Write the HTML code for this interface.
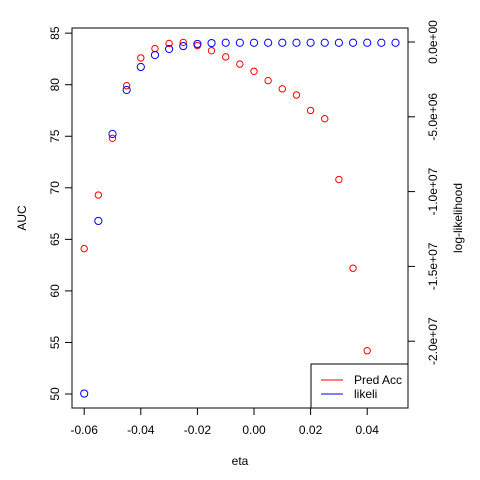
<!DOCTYPE html>
<html><head><meta charset="utf-8"><style>body{margin:0;background:#fff}svg{display:block;font-family:"Liberation Sans",sans-serif}</style></head>
<body>
<svg id="chart" width="480" height="480" viewBox="0 0 480 480"></svg>
<script>
const etas=[-0.06,-0.055,-0.05,-0.045,-0.04,-0.035,-0.03,-0.025,-0.02,-0.015,-0.01,-0.005,0,0.005,0.01,0.015,0.02,0.025,0.03,0.035,0.04,0.045,0.05];
const predAcc=[64.1,69.3,74.8,79.9,82.6,83.5,84.0,84.1,83.8,83.3,82.7,82.0,81.3,80.4,79.6,79.0,77.5,76.7,70.8,62.2,54.2];
const likeli=[-23.5e6,-11.96e6,-6.15e6,-3.21e6,-1.67e6,-0.87e6,-0.47e6,-0.27e6,-0.13e6,-0.07e6,-0.05e6,-0.05e6,-0.05e6,-0.05e6,-0.05e6,-0.05e6,-0.05e6,-0.05e6,-0.05e6,-0.05e6,-0.05e6,-0.05e6,-0.05e6];
const xTicks=[-0.06,-0.04,-0.02,0,0.02,0.04];
const xTickLabels=["-0.06","-0.04","-0.02","0.00","0.02","0.04"];
const yTicks=[50,55,60,65,70,75,80,85];
const y2Ticks=[0,-5e6,-1e7,-1.5e7,-2e7];
const y2TickLabels=["0.0e+00","-5.0e+06","-1.0e+07","-1.5e+07","-2.0e+07"];
const X=v=>254+v*2830;
const Y=v=>394-(v-50)*10.31;
const Y2=v=>42-v/5e6*74.8;
const svg=document.getElementById('chart');
const NS='http://www.w3.org/2000/svg';
function mk(t,a,p){const e=document.createElementNS(NS,t);for(const k in a)e.setAttribute(k,a[k]);(p||svg).appendChild(e);return e;}
let e;
e=mk('rect',{x:72,y:28,width:336,height:380,fill:'none',stroke:'#000'});


// x axis
e=mk('line',{x1:X(-0.06),x2:X(0.04),y1:408,y2:408,stroke:'#000'});


xTicks.forEach((t,i)=>{
 e=mk('line',{x1:X(t),x2:X(t),y1:408,y2:415,stroke:'#000'});
 
 
 e=mk('text',{x:X(t),y:434,'text-anchor':'middle','font-size':12});e.textContent=xTickLabels[i];
 
 
});
// left axis
e=mk('line',{x1:72,x2:72,y1:Y(50),y2:Y(85),stroke:'#000'});


yTicks.forEach(t=>{
 e=mk('line',{x1:65,x2:72,y1:Y(t),y2:Y(t),stroke:'#000'});
 
 
 e=mk('text',{x:0,y:0,'text-anchor':'middle','font-size':12,transform:`translate(59,${Y(t)}) rotate(-90)`});e.textContent=t;
 
 
});
// right axis
e=mk('line',{x1:408,x2:408,y1:Y2(0),y2:Y2(-2e7),stroke:'#000'});


y2Ticks.forEach((t,i)=>{
 e=mk('line',{x1:408,x2:415,y1:Y2(t),y2:Y2(t),stroke:'#000'});
 
 
 e=mk('text',{x:0,y:0,'text-anchor':'middle','font-size':12,transform:`translate(437,${Y2(t)}) rotate(-90)`});e.textContent=y2TickLabels[i];
 
 
});
e=mk('text',{x:240,y:465,'text-anchor':'middle','font-size':12});e.textContent='eta';


e=mk('text',{x:0,y:0,'text-anchor':'middle','font-size':12,transform:'translate(26,218) rotate(-90)'});e.textContent='AUC';


e=mk('text',{x:0,y:0,'text-anchor':'middle','font-size':12,transform:'translate(462,218) rotate(-90)'});e.textContent='log-likelihood';


// points
predAcc.forEach((v,i)=>{
 e=mk('circle',{cx:X(etas[i]),cy:Y(v),r:3.2,fill:'none',stroke:'#f00'});
 
 
});
likeli.forEach((v,i)=>{
 e=mk('circle',{cx:X(etas[i]),cy:Y2(v),r:3.6,fill:'none',stroke:'#00f'});
 
 
});
// legend
const g=mk('g',{});


mk('rect',{x:311,y:364,width:97,height:44,fill:'#fff',stroke:'#000'},g);
e=mk('line',{x1:321,x2:343,y1:380,y2:380,stroke:'#f00'},g);


e=mk('text',{x:354,y:384,'font-size':12},g);e.textContent='Pred Acc';


e=mk('line',{x1:321,x2:343,y1:394,y2:394,stroke:'#00f'},g);


e=mk('text',{x:354,y:398,'font-size':12},g);e.textContent='likeli';


</script>
</body></html>
